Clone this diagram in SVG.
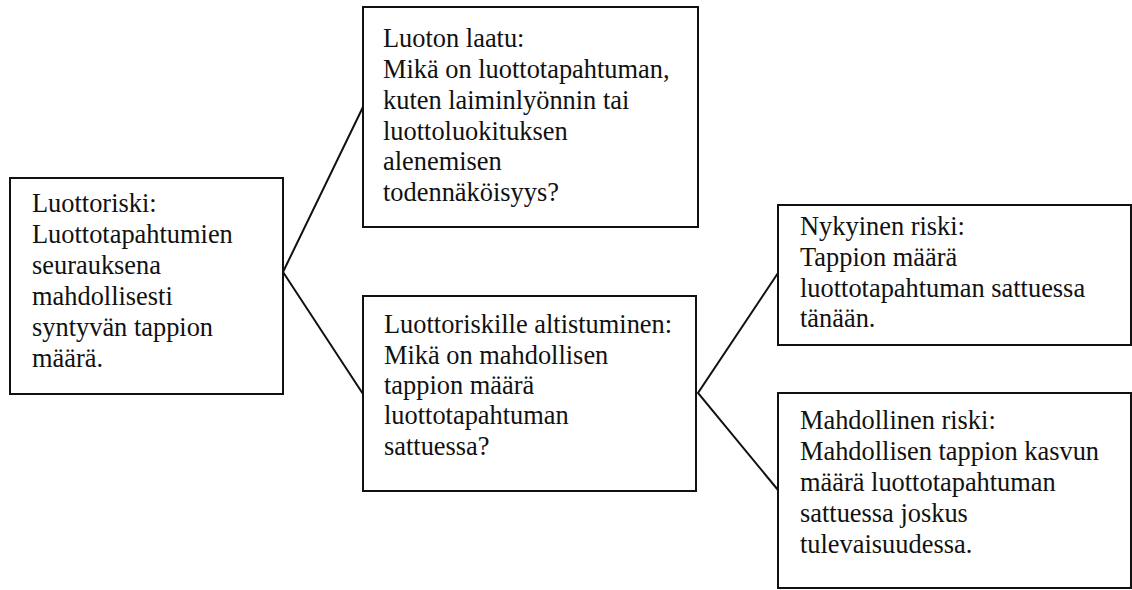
<svg xmlns="http://www.w3.org/2000/svg" width="1132" height="590" viewBox="0 0 1132 590">
  <style>
    .box { fill: #ffffff; stroke: #111111; stroke-width: 2; }
    .link { fill: none; stroke: #111111; stroke-width: 2; }
    .lbl { font-family: "Liberation Serif", "Times New Roman", serif; font-size: 26.4px; fill: #111111; }
  </style>
  <rect width="1132" height="590" fill="#ffffff"/>

  <!-- connectors -->
  <g id="connectors">
    <polyline class="link" points="363,107 283,272 363,394"/>
    <polyline class="link" points="778,273 698,393 778,490"/>
  </g>

  <!-- credit risk (root) -->
  <g id="node-luottoriski">
    <rect class="box" x="10" y="178" width="273" height="216"/>
    <text class="lbl" x="32" y="212">Luottoriski:</text>
    <text class="lbl" x="32" y="243">Luottotapahtumien</text>
    <text class="lbl" x="32" y="274">seurauksena</text>
    <text class="lbl" x="32" y="305">mahdollisesti</text>
    <text class="lbl" x="32" y="336">syntyvän tappion</text>
    <text class="lbl" x="32" y="367">määrä.</text>
  </g>

  <!-- credit quality -->
  <g id="node-luoton-laatu">
    <rect class="box" x="363" y="7" width="335" height="220"/>
    <text class="lbl" x="383" y="47">Luoton laatu:</text>
    <text class="lbl" x="383" y="78">Mikä on luottotapahtuman,</text>
    <text class="lbl" x="383" y="109">kuten laiminlyönnin tai</text>
    <text class="lbl" x="383" y="140">luottoluokituksen</text>
    <text class="lbl" x="383" y="170">alenemisen</text>
    <text class="lbl" x="383" y="201">todennäköisyys?</text>
  </g>

  <!-- exposure -->
  <g id="node-altistuminen">
    <rect class="box" x="363" y="296" width="333" height="195"/>
    <text class="lbl" x="384" y="333">Luottoriskille altistuminen:</text>
    <text class="lbl" x="384" y="364">Mikä on mahdollisen</text>
    <text class="lbl" x="384" y="394">tappion määrä</text>
    <text class="lbl" x="384" y="424">luottotapahtuman</text>
    <text class="lbl" x="384" y="455">sattuessa?</text>
  </g>

  <!-- current exposure -->
  <g id="node-nykyinen">
    <rect class="box" x="778" y="205" width="353" height="140"/>
    <text class="lbl" x="800" y="235">Nykyinen riski:</text>
    <text class="lbl" x="800" y="266">Tappion määrä</text>
    <text class="lbl" x="800" y="297">luottotapahtuman sattuessa</text>
    <text class="lbl" x="800" y="327">tänään.</text>
  </g>

  <!-- potential exposure -->
  <g id="node-mahdollinen">
    <rect class="box" x="778" y="393" width="353" height="195"/>
    <text class="lbl" x="800" y="429">Mahdollinen riski:</text>
    <text class="lbl" x="800" y="460">Mahdollisen tappion kasvun</text>
    <text class="lbl" x="800" y="491">määrä luottotapahtuman</text>
    <text class="lbl" x="800" y="522">sattuessa joskus</text>
    <text class="lbl" x="800" y="553">tulevaisuudessa.</text>
  </g>
</svg>
